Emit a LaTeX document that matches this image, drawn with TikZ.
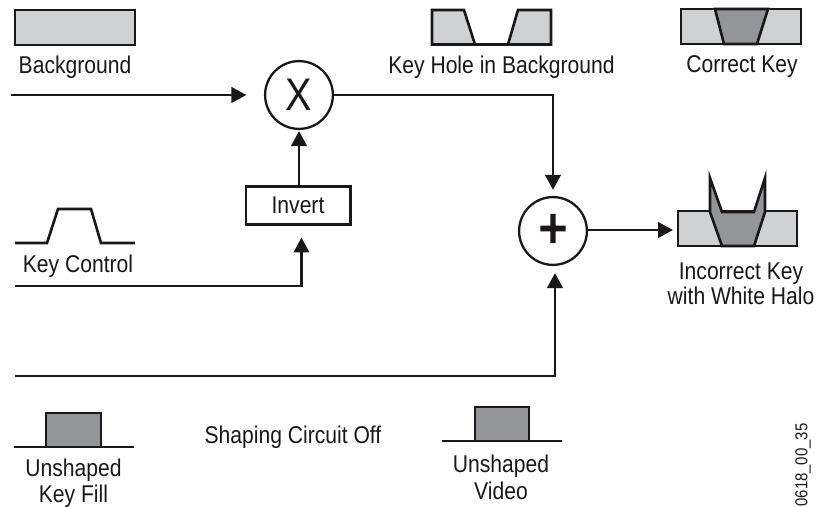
\documentclass[tikz,border=0pt]{standalone}
\usepackage{fontspec}
\setmainfont[FakeStretch=0.87]{Liberation Sans}
\newfontfamily\plusfont[FakeStretch=0.87,FakeBold=3]{Liberation Sans}
\usetikzlibrary{arrows.meta}
\definecolor{keylight}{HTML}{CFD1D3}
\definecolor{keydark}{HTML}{939598}
\definecolor{keyline}{HTML}{1A1718}
\tikzset{
  sig/.style={draw=keyline,line width=1.5pt,-{Triangle[length=8.5pt,width=8.8pt]}},
  wave/.style={draw=keyline,line width=1.5pt,line join=miter},
  lightpart/.style={wave,fill=keylight},
  darkpart/.style={wave,fill=keydark},
  lbl/.style={text=keyline,font=\fontsize{13.8}{15}\selectfont,inner sep=0pt,align=center},
  opnode/.style={circle,draw=keyline,line width=1.3pt,minimum size=38.6pt,inner sep=0pt,text=keyline},
  invbox/.style={rectangle,draw=keyline,line width=1.4pt,minimum width=59.5pt,minimum height=21.5pt,inner sep=0pt,text=keyline}
}
\begin{document}
\begin{tikzpicture}[x=0.02cm,y=-0.02cm]
  \useasboundingbox (0,0) rectangle (816,507);
  % Operators and the box
  \node[opnode,font=\fontsize{26}{26}\selectfont] (mulop) at (299,95) {X};
  \node[opnode,font=\fontsize{32}{32}\plusfont] (addop) at (553,231) {+};
  \node[invbox,font=\fontsize{13.8}{15}\selectfont] (invert) at (298,205.5) {Invert};
  % Signal lines
  \coordinate (bgin) at (11,95);
  \coordinate (kcin) at (15,286);
  \coordinate (kcturn) at (301.5,286);
  \coordinate (fillin) at (15,376);
  \coordinate (fillturn) at (555,376);
  \coordinate (keyout) at (673,230);
  \draw[sig,shorten >=10pt] (bgin) -- (mulop);
  \draw[sig,shorten >=0.6pt] (invert.north -| mulop) -- (mulop);
  \draw[sig,shorten >=3.5pt] (mulop.east) -| (addop.north);
  \draw[sig,shorten >=6.8pt] (kcin) -- (kcturn) -- (kcturn |- invert.south);
  \draw[sig,shorten >=4pt] (fillin) -- (fillturn) -- (fillturn |- addop.south);
  \draw[sig] (addop.east |- keyout) -- (keyout);
  % Background
  \draw[lightpart] (15,10) rectangle (135,45);
  \node[lbl] (bglabel) at (75,67.5) {Background};
  % Key hole
  \draw[lightpart] (432,10) -- (464,10) -- (475,44.5) -- (432,44.5) -- cycle;
  \draw[lightpart] (518,10) -- (551,10) -- (551,44.5) -- (508,44.5) -- cycle;
  \draw[wave] (475,44.5) -- (508,44.5);
  \node[lbl] (holelabel) at (501.5,67.5) {Key Hole in Background};
  % Correct key
  \draw[lightpart] (681,9) rectangle (801,44);
  \draw[darkpart] (715,9) -- (768,9) -- (757,44) -- (724,44) -- cycle;
  \node[lbl] (correctlabel) at (742,67) {Correct Key};
  % Incorrect key
  \draw[lightpart] (678,211) rectangle (797,246);
  \draw[darkpart] (710,178) -- (722,212) -- (754,212) -- (765,178) -- (765,212) -- (754,246) -- (722,246) -- (710,212) -- cycle;
  \node[lbl] (halolabel) at (741,283.5) {Incorrect Key\\[-0.8pt]with White Halo};
  % Key control
  \draw[wave] (15,243) -- (47,243) -- (58,209) -- (91,209) -- (101,243) -- (135,243);
  \node[lbl] (kclabel) at (78,266) {Key Control};
  % Unshaped key fill
  \draw[darkpart] (46,413) rectangle (101,447);
  \draw[wave] (14,447) -- (134,447);
  \node[lbl] (filllabel) at (73.5,483.5) {Unshaped\\Key Fill};
  % Unshaped video
  \draw[darkpart] (475,407) rectangle (529,441);
  \draw[wave] (442,441) -- (562,441);
  \node[lbl] (videolabel) at (501,477.5) {Unshaped\\Video};
  % Captions
  \node[lbl] (offlabel) at (293,437) {Shaping Circuit Off};
  \node[lbl,rotate=90,font=\fontsize{9.8}{11}\selectfont] (figlabel) at (803,465) {0618\_00\_35};
\end{tikzpicture}
\end{document}
